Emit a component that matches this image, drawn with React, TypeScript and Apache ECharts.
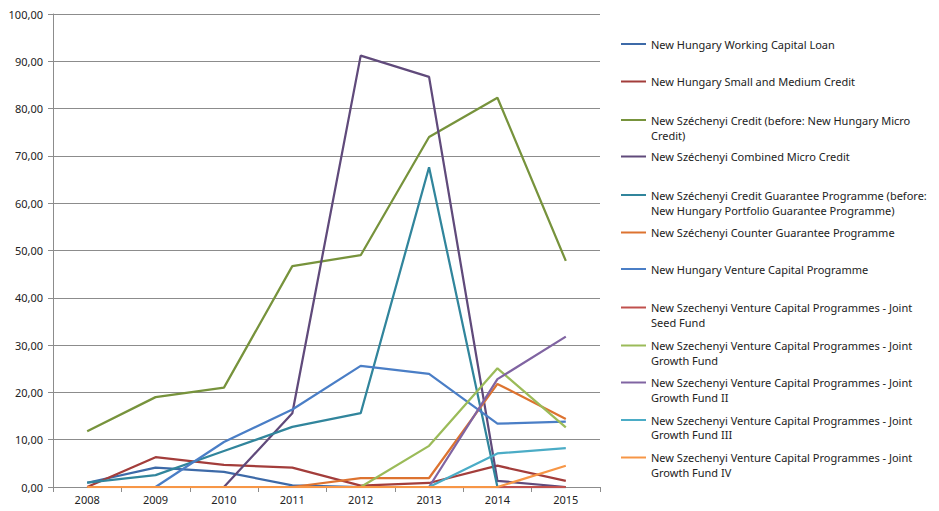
import React, { useEffect, useRef } from "react";
import * as echarts from "echarts";

const years = ["2008", "2009", "2010", "2011", "2012", "2013", "2014", "2015"];

const seriesNames = [
  "New Hungary Working Capital Loan",
  "New Hungary Small and Medium Credit",
  "New Széchenyi Credit (before: New Hungary Micro Credit)",
  "New Széchenyi Combined Micro Credit",
  "New Széchenyi Credit Guarantee Programme (before: New Hungary Portfolio Guarantee Programme)",
  "New Széchenyi Counter Guarantee Programme",
  "New Hungary Venture Capital Programme",
  "New Szechenyi Venture Capital Programmes - Joint Seed Fund",
  "New Szechenyi Venture Capital Programmes - Joint Growth Fund",
  "New Szechenyi Venture Capital Programmes - Joint Growth Fund II",
  "New Szechenyi Venture Capital Programmes - Joint Growth Fund III",
  "New Szechenyi Venture Capital Programmes - Joint Growth Fund IV",
];

// legend text as it wraps in the reference: [first line, second line]
const legendLines: [string, string][] = [
  ["New Hungary Working Capital Loan", ""],
  ["New Hungary Small and Medium Credit", ""],
  ["New Széchenyi Credit (before: New Hungary Micro", "Credit)"],
  ["New Széchenyi Combined Micro Credit", ""],
  ["New Széchenyi Credit Guarantee Programme (before:", "New Hungary Portfolio Guarantee Programme)"],
  ["New Széchenyi Counter Guarantee Programme", ""],
  ["New Hungary Venture Capital Programme", ""],
  ["New Szechenyi Venture Capital Programmes - Joint", "Seed Fund"],
  ["New Szechenyi Venture Capital Programmes - Joint", "Growth Fund"],
  ["New Szechenyi Venture Capital Programmes - Joint", "Growth Fund II"],
  ["New Szechenyi Venture Capital Programmes - Joint", "Growth Fund III"],
  ["New Szechenyi Venture Capital Programmes - Joint", "Growth Fund IV"],
];

const workingCapitalLoan = [0.9, 4.1, 3.2, 0.35, 0, null, null, null];
const smallMediumCredit = [0, 6.3, 4.7, 4.1, 0.3, 0.85, 4.5, 1.3];
const szechenyiCredit = [11.8, 19.0, 21.0, 46.7, 49.0, 74.0, 82.3, 47.8];
const combinedMicroCredit = [null, null, 0, 15.6, 91.2, 86.7, 1.3, 0];
const creditGuarantee = [0.9, 2.5, 7.6, 12.7, 15.6, 67.6, 0, 0];
const counterGuarantee = [null, null, null, 0, 1.9, 1.9, 21.8, 14.4];
const ventureCapital = [null, 0, 9.5, 16.4, 25.6, 23.9, 13.4, 13.8];
const jointSeedFund = [null, null, null, null, null, 0, 0, 0];
const jointGrowthFund = [null, null, null, null, 0, 8.7, 25.1, 12.6];
const jointGrowthFundII = [null, null, null, null, null, 0, 22.8, 31.8];
const jointGrowthFundIII = [null, null, null, null, null, 0, 7.1, 8.2];
const jointGrowthFundIV = [0, 0, 0, 0, 0, 0, 0, 4.5];

const seriesValues = [
  workingCapitalLoan,
  smallMediumCredit,
  szechenyiCredit,
  combinedMicroCredit,
  creditGuarantee,
  counterGuarantee,
  ventureCapital,
  jointSeedFund,
  jointGrowthFund,
  jointGrowthFundII,
  jointGrowthFundIII,
  jointGrowthFundIV,
];

const colors = [
  "#3d6aa8",
  "#a33d3b",
  "#77933c",
  "#604a7b",
  "#31859c",
  "#dd7330",
  "#4a7ec6",
  "#c0504d",
  "#9bbb59",
  "#8064a2",
  "#4bacc6",
  "#f79646",
];

// layout: vertical centre of first and second legend lines
const legendFirstY = [44, 81.5, 120, 156.5, 195, 232.5, 269, 307.5, 345.5, 382.5, 420, 457.5];
const legendSecondY = [0, 0, 135, 0, 210.5, 0, 0, 322.5, 360, 397.5, 434.5, 472];

const FONT = "Noto Sans";

export default function App() {
  const ref = useRef<HTMLDivElement>(null);
  useEffect(() => {
    if (!ref.current) return;
    const chart = echarts.init(ref.current, null, { renderer: "svg" });
    const legends = seriesNames.map((name, i) => ({
      data: [name],
      left: 621,
      top: legendFirstY[i] - 7,
      orient: "vertical",
      icon: "rect",
      itemWidth: 25,
      itemHeight: 2,
      itemGap: 0,
      padding: 0,
      selectedMode: false,
      formatter: () => legendLines[i][0],
      textStyle: { fontFamily: FONT, fontSize: 11, color: "#222", lineHeight: 14 },
    }));
    const graphics = legendLines
      .map((l, i) => ({ l, i }))
      .filter(({ l }) => l[1])
      .map(({ l, i }) => ({
        type: "text",
        x: 651,
        y: legendSecondY[i],
        style: {
          text: l[1],
          fill: "#222",
          font: `11px "${FONT}"`,
          verticalAlign: "middle",
        },
      }));
    chart.setOption({
      animation: false,
      backgroundColor: "#fff",
      color: colors,
      legend: legends,
      graphic: graphics,
      grid: { left: 53, top: 14, right: 339, bottom: 24 },
      xAxis: {
        type: "category",
        data: years,
        boundaryGap: true,
        axisLine: { lineStyle: { color: "#8c8c8c" } },
        axisTick: { show: true, length: 5, lineStyle: { color: "#8c8c8c" } },
        axisLabel: { fontFamily: FONT, fontSize: 11, color: "#222", margin: 7 },
      },
      yAxis: {
        type: "value",
        min: 0,
        max: 100,
        interval: 10,
        axisLine: { show: true, lineStyle: { color: "#8c8c8c" } },
        axisTick: { show: true, length: 5, lineStyle: { color: "#8c8c8c" } },
        splitLine: { lineStyle: { color: "#8c8c8c" } },
        axisLabel: {
          fontFamily: FONT,
          fontSize: 11,
          color: "#222",
          margin: 10,
          formatter: (v: number) => v.toFixed(2).replace(".", ","),
        },
      },
      series: seriesNames.map((name, i) => ({
        name,
        type: "line",
        data: seriesValues[i],
        symbol: "none",
        lineStyle: { width: 2.25, color: colors[i] },
        itemStyle: { color: colors[i] },
        connectNulls: false,
      })),
    });
    return () => chart.dispose();
  }, []);
  return (
    <div
      ref={ref}
      style={{ position: "fixed", left: 0, top: 0, width: 939, height: 511 }}
    />
  );
}
